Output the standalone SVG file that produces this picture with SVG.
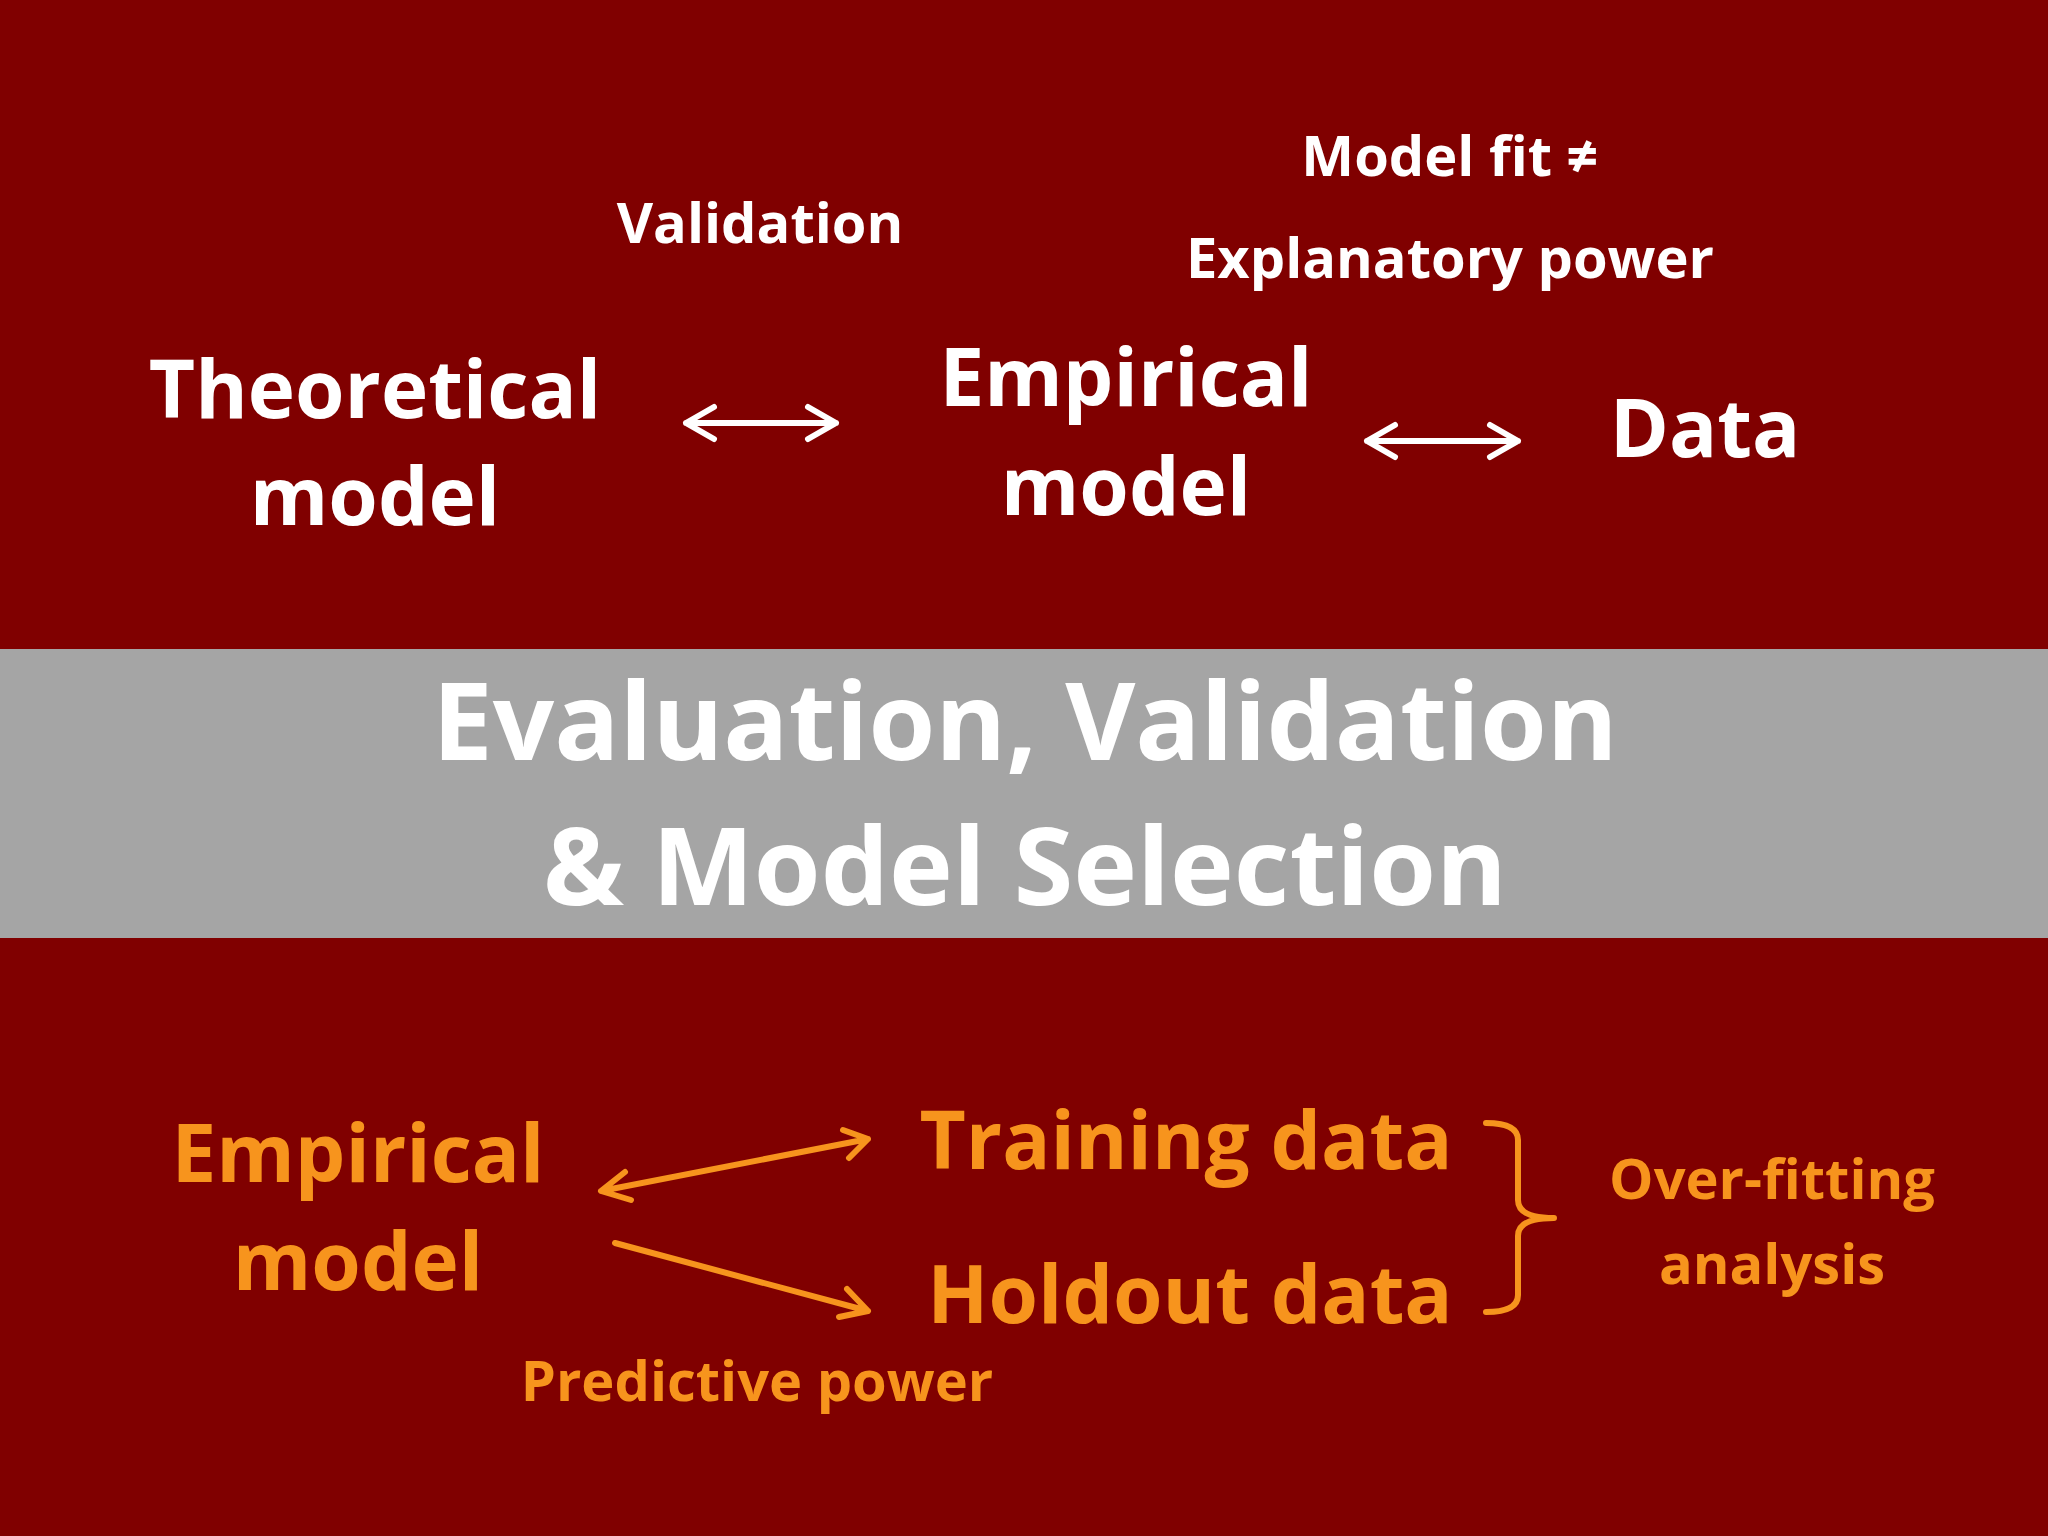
<svg xmlns="http://www.w3.org/2000/svg" width="2048" height="1536" viewBox="0 0 2048 1536">
<style>
text{font-family:"Open Sans","Liberation Sans",sans-serif;font-weight:bold;text-anchor:middle}
.w{fill:#fff}.o{fill:#F7941D}
.big{font-size:80px}.sm{font-size:56px}
.lw{stroke:#fff;stroke-width:6;fill:none;stroke-linecap:round;stroke-linejoin:round}
.lo{stroke:#F7941D;stroke-width:6;fill:none;stroke-linecap:round;stroke-linejoin:round}
</style>
<rect width="2048" height="1536" fill="#800000"/>
<rect y="649" width="2048" height="289" fill="#A5A5A5"/>
<g id="title"><text class="w" x="1025" y="760" font-size="108">Evaluation, Validation</text><text class="w" x="1025" y="905" font-size="108">&amp; Model Selection</text></g>
<g id="theoretical"><text class="w big" x="375" y="418">Theoretical</text><text class="w big" x="375" y="525">model</text></g>
<g id="validation"><text class="w sm" x="760" y="243">Validation</text></g>
<g id="modelfit"><text class="w sm" x="1450" y="176">Model fit ≠</text><text class="w sm" x="1450" y="278">Explanatory power</text></g>
<g id="empirical1"><text class="w big" x="1126" y="406">Empirical</text><text class="w big" x="1126" y="515">model</text></g>
<g id="data"><text class="w big" x="1705" y="457">Data</text></g>
<g id="empirical2"><text class="o big" x="358" y="1182">Empirical</text><text class="o big" x="358" y="1290">model</text></g>
<g id="training"><text class="o big" x="1186" y="1169">Training data</text></g>
<g id="holdout"><text class="o big" x="1190" y="1323">Holdout data</text></g>
<g id="overfit"><text class="o sm" x="1772" y="1199">Over-fitting</text><text class="o sm" x="1772" y="1284">analysis</text></g>
<g id="predictive"><text class="o sm" x="757" y="1401">Predictive power</text></g>
<g id="connectors">
<path class="lw" d="M686 423H836M714 407L686 423L714 439M808 407L836 423L808 439"/>
<path class="lw" d="M1367 441H1518M1395 425L1367 441L1395 457M1490 425L1518 441L1490 457"/>
<path class="lo" d="M601 1191L868 1139M625 1172L601 1191L631 1200M843 1130L868 1139L849 1158"/>
<path class="lo" d="M615 1243L868 1311M847 1289L868 1311L839 1317"/>
<path class="lo" d="M1486 1123Q1518 1123 1518 1140V1200Q1518 1218 1554 1218Q1518 1218 1518 1236V1295Q1518 1312 1486 1312"/>
</g>
</svg>
